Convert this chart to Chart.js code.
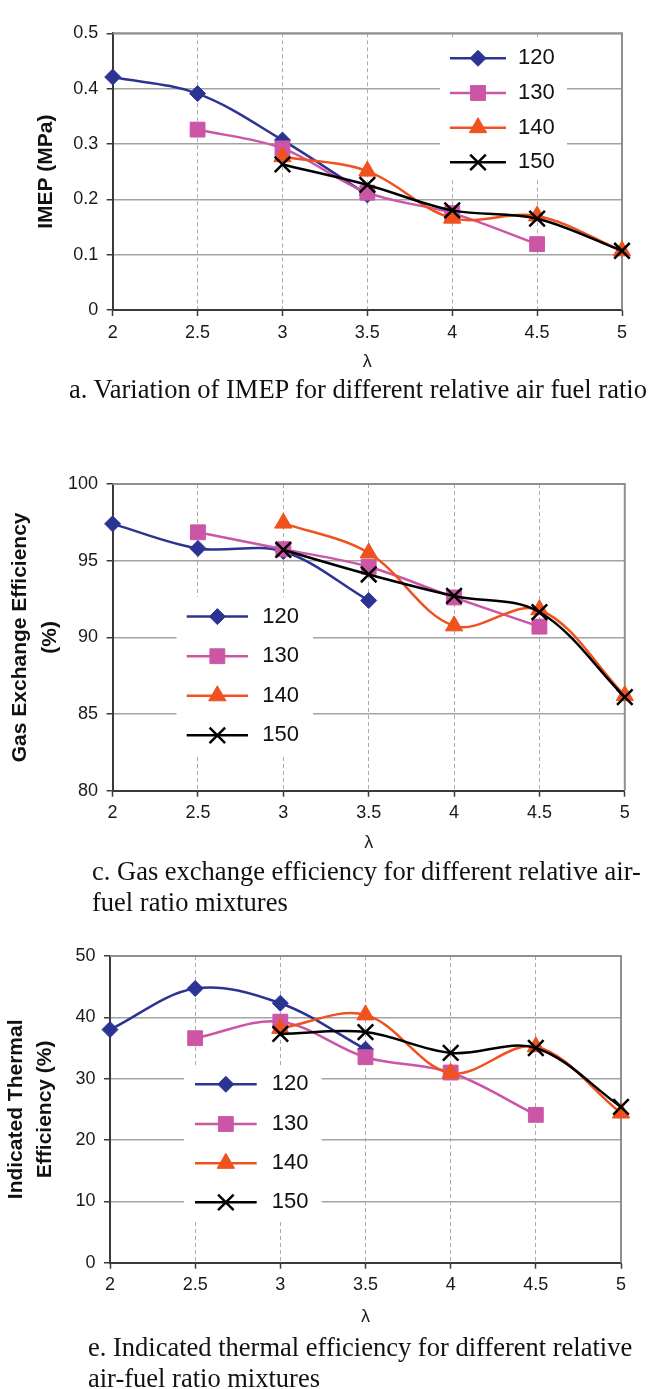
<!DOCTYPE html>
<html>
<head>
<meta charset="utf-8">
<script src="https://cdn.jsdelivr.net/npm/chart.js@4.4.1/dist/chart.umd.min.js"></script>
<style>
  html, body { margin: 0; padding: 0; background: #fff; }
  #page { position: relative; width: 659px; height: 1389px; overflow: hidden; background: #fff; }
  #page canvas { position: absolute; left: 0; }
  .cap {
    position: absolute;
    font-family: "Liberation Serif", "Times New Roman", serif;
    font-size: 26.5px;
    line-height: 31px;
    color: #111;
    white-space: nowrap;
  }
</style>
</head>
<body>
<div id="page">
  <canvas id="imepChart" width="659" height="375" style="top:0px"></canvas>
  <div class="cap" style="left:69px; top:374px">a. Variation of IMEP for different relative air fuel ratio</div>

  <canvas id="gasChart" width="659" height="420" style="top:440px"></canvas>
  <div class="cap" style="left:92px; top:856px">c. Gas exchange efficiency for different relative air-<br>fuel ratio mixtures</div>

  <canvas id="iteChart" width="659" height="410" style="top:920px"></canvas>
  <div class="cap" style="left:88px; top:1332px">e. Indicated thermal efficiency for different relative<br>air-fuel ratio mixtures</div>
</div>

<script>
// Relative air-fuel ratio (λ) values on the x axis
const lambda = [2, 2.5, 3, 3.5, 4, 4.5, 5];
const seriesNames = ['120', '130', '140', '150'];

// IMEP (MPa)
const imep120 = [0.421, 0.391, 0.307, 0.208, null, null, null];
const imep130 = [null, 0.326, 0.292, 0.212, 0.175, 0.119, null];
const imep140 = [null, null, 0.277, 0.251, 0.166, 0.170, 0.107];
const imep150 = [null, null, 0.263, 0.226, 0.180, 0.165, 0.107];

// Gas exchange efficiency (%)
const gas120 = [97.4, 95.8, 95.6, 92.4, null, null, null];
const gas130 = [null, 96.85, 95.75, 94.6, 92.6, 90.7, null];
const gas140 = [null, null, 97.45, 95.5, 90.75, 91.8, 86.2];
const gas150 = [null, null, 95.7, 94.1, 92.7, 91.65, 86.1];

// Indicated thermal efficiency (%)
const ite120 = [38.0, 44.7, 42.3, 34.8, null, null, null];
const ite130 = [null, 36.6, 39.3, 33.5, 31.0, 24.1, null];
const ite140 = [null, null, 38.2, 40.4, 30.9, 35.2, 24.4];
const ite150 = [null, null, 37.3, 37.6, 34.2, 35.0, 25.4];

const SANS = '"Liberation Sans", Arial, Helvetica, sans-serif';

const seriesStyle = [
  { color: '#2b3493', pointStyle: 'rectRot',  radius: 8,    pointBorderWidth: 1 },
  { color: '#cc56a6', pointStyle: 'rect',     radius: 10.5, pointBorderWidth: 1 },
  { color: '#f0521f', pointStyle: 'triangle', radius: 10,   pointBorderWidth: 1 },
  { color: '#000000', pointStyle: 'crossRot', radius: 11,   pointBorderWidth: 2.5 }
];

function toPoints(values) {
  return lambda
    .map((x, i) => ({ x: x, y: values[i] }))
    .filter(p => p.y !== null);
}

function buildDatasets(seriesList) {
  return seriesList.map((values, i) => {
    const st = seriesStyle[i];
    return {
      label: seriesNames[i],
      data: toPoints(values),
      borderColor: st.color,
      backgroundColor: st.color,
      borderWidth: 2.5,
      pointStyle: st.pointStyle,
      pointRadius: st.radius,
      pointHoverRadius: st.radius,
      pointBorderWidth: st.pointBorderWidth,
      pointBorderColor: st.color,
      pointBackgroundColor: st.color,
      tension: 0.35,
      clip: false,
      order: 4 - i
    };
  });
}

// Plain number labels: 2, 2.5, 3 ... and 0, 0.1 ... 0.5
const plainNumber = v => String(Math.round(v * 1000) / 1000);

// Solid grey frame along the top and right of the plot area
const plotFrame = {
  id: 'plotFrame',
  beforeDatasetsDraw(chart) {
    const { ctx, chartArea: a } = chart;
    ctx.save();
    ctx.strokeStyle = '#8f8f8f';
    ctx.lineWidth = 2;
    ctx.beginPath();
    ctx.moveTo(a.left, a.top);
    ctx.lineTo(a.right, a.top);
    ctx.lineTo(a.right, a.bottom);
    ctx.stroke();
    ctx.restore();
  }
};

// Legend drawn inside the plot on a white panel
const insideLegend = {
  id: 'insideLegend',
  afterDatasetsDraw(chart, args, opts) {
    const ctx = chart.ctx;
    const T = opts.canvasTop;
    ctx.save();
    ctx.fillStyle = '#ffffff';
    ctx.fillRect(opts.box[0], opts.box[1] - T, opts.box[2] - opts.box[0], opts.box[3] - opts.box[1]);
    chart.data.datasets.forEach((ds, i) => {
      const y = opts.rows[i] - T;
      ctx.strokeStyle = ds.borderColor;
      ctx.lineWidth = ds.borderWidth;
      ctx.beginPath();
      ctx.moveTo(opts.line[0], y);
      ctx.lineTo(opts.line[1], y);
      ctx.stroke();
      ctx.fillStyle = ds.pointBackgroundColor;
      ctx.strokeStyle = ds.pointBorderColor;
      ctx.lineWidth = ds.pointBorderWidth;
      Chart.helpers.drawPoint(ctx, {
        pointStyle: ds.pointStyle,
        radius: ds.pointRadius,
        rotation: 0,
        borderWidth: ds.pointBorderWidth
      }, (opts.line[0] + opts.line[1]) / 2, y);
      ctx.fillStyle = '#111';
      ctx.font = '22px ' + SANS;
      ctx.textAlign = 'left';
      ctx.textBaseline = 'middle';
      ctx.fillText(ds.label, opts.textX, y);
    });
    ctx.restore();
  }
};

function buildChart(id, g, seriesList, yAxis, legend) {
  const canvas = document.getElementById(id);
  const H = canvas.height;
  const axisH = 65;
  const lamSize = 18, lamLH = 1.2;
  const lamPadBottom = (g.plotBottom + axisH - g.lambdaY) - lamSize * lamLH / 2;
  return new Chart(canvas, {
    type: 'line',
    data: { datasets: buildDatasets(seriesList) },
    options: {
      responsive: false,
      animation: false,
      devicePixelRatio: 1,
      layout: {
        padding: {
          left: 0,
          top: g.plotTop - g.top,
          right: 659 - g.plotRight,
          bottom: H - (g.plotBottom - g.top) - axisH
        }
      },
      plugins: {
        legend: { display: false },
        tooltip: { enabled: false },
        insideLegend: Object.assign({ canvasTop: g.top }, legend)
      },
      scales: {
        x: {
          type: 'linear',
          min: 2,
          max: 5,
          ticks: {
            stepSize: 0.5,
            autoSkip: false,
            maxRotation: 0,
            padding: 6,
            color: '#1a1a1a',
            font: { family: SANS, size: 18 },
            callback: plainNumber
          },
          grid: {
            color: c => (c.tick && (c.tick.value === 2 || c.tick.value === 5)) ? 'rgba(0,0,0,0)' : '#ababab',
            lineWidth: 1,
            tickLength: 6,
            tickColor: '#3a3a3a',
            tickWidth: 1.5
          },
          border: { color: '#3a3a3a', width: 2, dash: [4, 3] },
          title: {
            display: true,
            text: 'λ',
            color: '#1a1a1a',
            font: { family: SANS, size: lamSize, lineHeight: lamLH },
            padding: { top: 0, bottom: lamPadBottom }
          },
          afterFit: s => { s.height = axisH; }
        },
        y: {
          type: 'linear',
          min: yAxis.min,
          max: yAxis.max,
          ticks: {
            stepSize: yAxis.step,
            padding: 8.5,
            color: '#1a1a1a',
            font: { family: SANS, size: 18 },
            callback: plainNumber
          },
          grid: {
            color: c => (c.tick && c.tick.value === yAxis.min) ? 'rgba(0,0,0,0)' : '#a3a3a3',
            lineWidth: 1.5,
            tickLength: 6,
            tickColor: '#3a3a3a',
            tickWidth: 1.5
          },
          border: { color: '#3a3a3a', width: 2 },
          title: {
            display: true,
            text: yAxis.title,
            color: '#111',
            font: { family: SANS, size: 21, weight: 'bold', lineHeight: yAxis.titleLH },
            padding: { top: yAxis.titlePad, bottom: 0 }
          },
          afterFit: s => { s.width = g.plotLeft; }
        }
      }
    },
    plugins: [plotFrame, insideLegend]
  });
}

buildChart('imepChart',
  { top: 0, plotTop: 33.3, plotBottom: 310, plotLeft: 112.7, plotRight: 622, lambdaY: 362 },
  [imep120, imep130, imep140, imep150],
  { min: 0, max: 0.5, step: 0.1, title: 'IMEP (MPa)', titleLH: '25px', titlePad: 33.5 },
  { box: [440, 38, 567, 178], rows: [58.3, 93, 127.7, 162.3], line: [450, 506], textX: 518 }
);

buildChart('gasChart',
  { top: 440, plotTop: 484, plotBottom: 790.7, plotLeft: 112.6, plotRight: 624.8, lambdaY: 843 },
  [gas120, gas130, gas140, gas150],
  { min: 80, max: 100, step: 5, title: ['Gas Exchange Efficiency', '(%)'], titleLH: '30px', titlePad: 5 },
  { box: [176.5, 597, 313, 757], rows: [616.6, 656.2, 695.8, 735.3], line: [186.7, 248], textX: 262.3 }
);

buildChart('iteChart',
  { top: 920, plotTop: 956, plotBottom: 1262.7, plotLeft: 110, plotRight: 621, lambdaY: 1316.7 },
  [ite120, ite130, ite140, ite150],
  { min: 0, max: 50, step: 10, title: ['Indicated Thermal', 'Efficiency (%)'], titleLH: '29px', titlePad: 1.9 },
  { box: [184, 1065, 321.5, 1222], rows: [1084.3, 1124, 1163.3, 1202.3], line: [195, 256.7], textX: 271.7 }
);
</script>
</body>
</html>
